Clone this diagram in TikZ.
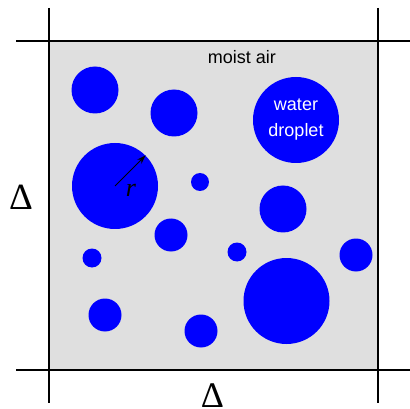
\documentclass[tikz,border=0pt]{standalone}
\usepackage{fontspec}
\setsansfont{Liberation Sans}
\newfontfamily\timesfont{Liberation Serif}
\usetikzlibrary{arrows.meta}

\tikzset{
	droplet/.style={circle, fill=blue, inner sep=0pt, minimum size=#1},
	cellline/.style={line width=2pt, black},
}

\begin{document}
\begin{tikzpicture}[x=1pt, y=-1pt, every node/.style={font=\sffamily\fontsize{18}{26}\selectfont}]
	\useasboundingbox (0,0) rectangle (410,409);
	% moist air cell
	\filldraw[fill=gray!25, draw=gray!60] (49,41) rectangle (378,370);
	\draw[cellline] (49,8) -- (49,403);
	\draw[cellline] (378,8) -- (378,403);
	\draw[cellline] (16,41) -- (410,41);
	\draw[cellline] (16,370) -- (410,370);
	% droplets
	\node[droplet=47pt] (d1) at (95,90) {};
	\node[droplet=47pt] (d2) at (174,113) {};
	\node[droplet=86pt] (big) at (115,186) {};
	\node[droplet=18pt] (d3) at (200,182) {};
	\node[droplet=86pt, text=white, align=center] (water) at (296,120) {water\\droplet};
	\node[droplet=47pt] (d4) at (283,209) {};
	\node[droplet=33pt] (d5) at (171,235) {};
	\node[droplet=19pt] (d6) at (92,258) {};
	\node[droplet=33pt] (d7) at (105,315) {};
	\node[droplet=33pt] (d8) at (201,331) {};
	\node[droplet=19pt] (d9) at (237,252) {};
	\node[droplet=33pt] (d10) at (356,255) {};
	\node[droplet=86pt] (d11) at (286.5,301) {};
	% labels
	\node[anchor=base] (air) at (242,64) {moist air};
	\draw[-{Stealth[length=9pt,width=6pt]}, line width=1pt] (big.center) -- (big.45);
	\node (r) at (131,190) {\timesfont\itshape\fontsize{26}{26}\selectfont r};
	\node[inner sep=0pt] (dx) at (212.5,395.5) {\timesfont\fontsize{36}{36}\selectfont Δ};
	\node[inner sep=0pt] (dy) at (21,197.5) {\timesfont\fontsize{37}{37}\selectfont Δ};
\end{tikzpicture}
\end{document}
